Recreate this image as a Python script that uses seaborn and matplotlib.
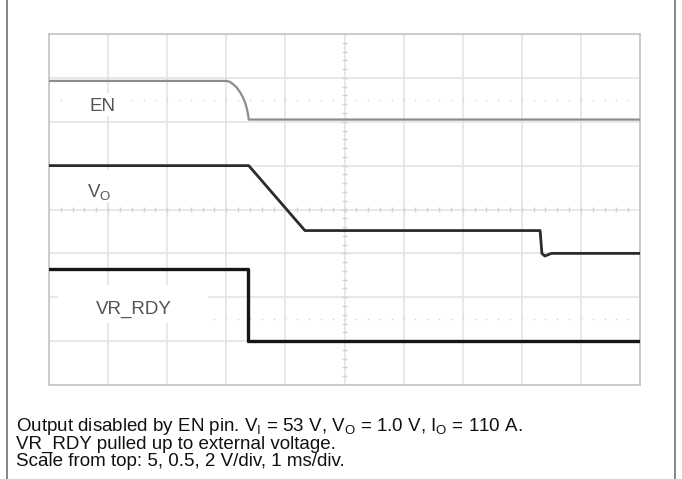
import numpy as np
import pandas as pd
import matplotlib
matplotlib.use("Agg")
import matplotlib.pyplot as plt
import seaborn as sns
from matplotlib.lines import Line2D
from matplotlib.patches import Rectangle

# ---- data: time in ms (1 ms/div), voltages in V ----
en_t = [0.0, 3.00, 3.06, 3.11, 3.17, 3.23, 3.28, 3.32, 3.35, 3.37, 3.38, 10.0]
en_v = [4.4, 4.4, 4.3, 4.05, 3.7, 3.15, 2.55, 1.9, 1.2, 0.5, 0.0, 0.0]
vo_t = [0.0, 3.38, 4.33, 8.31, 8.34, 8.39, 8.50, 10.0]
vo_v = [1.0, 1.0, 0.26, 0.26, 0.0, -0.03, 0.0, 0.0]
vr_t = [0.0, 3.37, 3.37, 10.0]
vr_v = [3.3, 3.3, 0.0, 0.0]

channels = ["EN", "VO", "VR_RDY"]
scales = [5.0, 0.5, 2.0]      # V/div, from top
offsets = [6.05, 3.0, 1.0]    # ground level of each channel (div)

caption = [
    r"Output disabled by EN pin. V$_\mathregular{I}$ = 53 V, V$_\mathregular{O}$ = 1.0 V, I$_\mathregular{O}$ = 110 A.",
    "VR_RDY pulled up to external voltage.",
    "Scale from top: 5, 0.5, 2 V/div, 1 ms/div.",
]

frames = []
for name, t, v, s, o in zip(channels, [en_t, vo_t, vr_t], [en_v, vo_v, vr_v], scales, offsets):
    frames.append(pd.DataFrame({"t": t, "div": [o + vv / s for vv in v], "ch": name}))
df = pd.concat(frames, ignore_index=True)

sns.set_style("white")
plt.rcParams["font.family"] = ["Liberation Sans", "DejaVu Sans"]
plt.rcParams["mathtext.fontset"] = "custom"
plt.rcParams["mathtext.rm"] = "Liberation Sans"

W, H = 682, 479
fig = plt.figure(figsize=(W / 100, H / 100), dpi=100)
ax = fig.add_axes([49 / W, (H - 385) / H, (640 - 49) / W, (385 - 34) / H])

ax.set_xlim(0, 10)
ax.set_ylim(0, 8)
ax.set_xticks(range(11))
ax.set_yticks(range(9))
ax.tick_params(length=0, labelbottom=False, labelleft=False)
ax.set_axisbelow(True)
ax.grid(True, color="#e4e4e4", lw=1.2)
for sp in ax.spines.values():
    sp.set_color("#c4c4c4")
    sp.set_linewidth(1.2)

# center graticule ticks
ticks = np.arange(0, 10.01, 0.2)
ax.vlines(ticks, 4 - 0.05, 4 + 0.05, color="#d2d2d2", lw=1, zorder=0.8)
yt = np.arange(0, 8.01, 0.2)
ax.hlines(yt, 5 - 0.04, 5 + 0.04, color="#d2d2d2", lw=1, zorder=0.8)
# faint dotted rows
for yy in (6.5, 1.5):
    ax.scatter(ticks, [yy] * len(ticks), s=1.5, color="#d4d4d4", zorder=0.8, linewidths=0)

# white label backgrounds
for (x0, x1, y0, y1) in [(0.27, 1.34, 6.13, 6.66), (0.36, 1.29, 4.17, 4.90), (0.15, 2.69, 1.41, 2.28)]:
    ax.add_patch(Rectangle((x0, y0), x1 - x0, y1 - y0, facecolor="white", edgecolor="none", zorder=1.5))

styles = {"EN": ("#8c8c8c", 1.6), "VO": ("#2b2b2b", 2.0), "VR_RDY": ("#151515", 2.4)}
for name in channels:
    c, lw = styles[name]
    sns.lineplot(data=df[df["ch"] == name], x="t", y="div", sort=False, estimator=None,
                 color=c, lw=lw, ax=ax, zorder=3, legend=False)
ax.set_xlabel("")
ax.set_ylabel("")

lab_kw = dict(fontsize=13.5, color="#555555", va="baseline", ha="left", zorder=4)
ax.text(0.68, 6.245, "EN", **lab_kw)
ax.text(0.64, 4.26, r"V$_\mathregular{O}$", **lab_kw)
ax.text(0.79, 1.62, "VR_RDY", **lab_kw)

# caption
for i, line in enumerate(caption):
    fig.text(16 / W, 1 - (431 + i * 17.6) / H, line, fontsize=13.5, color="#111111",
             va="baseline", ha="left")

# outer frame side lines
for xp in (7, 675):
    fig.add_artist(Line2D([xp / W, xp / W], [0, 1], transform=fig.transFigure, color="#707070", lw=1.2))

fig.savefig("out.png", dpi=100)
